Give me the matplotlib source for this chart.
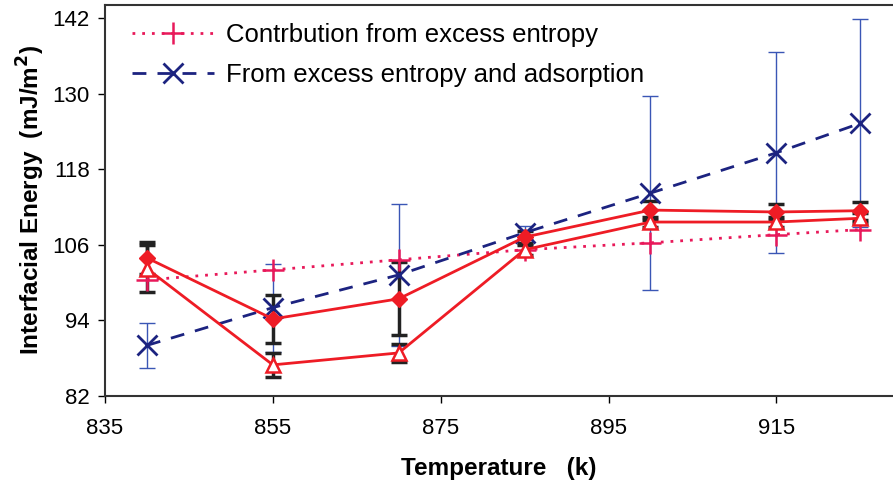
import matplotlib
matplotlib.use("Agg")
import matplotlib.pyplot as plt

temps = [840, 855, 870, 885, 900, 915, 925]
excess_entropy = [100.4, 102.0, 103.6, 105.2, 106.3, 107.6, 108.4]
entropy_adsorption = [90.0, 96.0, 101.2, 107.9, 114.2, 120.6, 125.3]
entropy_adsorption_err = [3.6, 7.0, 11.3, 1.0, 15.4, 16.0, 16.5]
measured_a = [103.9, 94.2, 97.4, 107.2, 111.5, 111.2, 111.4]
measured_a_err = [2.5, 3.8, 5.8, 1.0, 1.5, 1.3, 1.4]
measured_b = [102.2, 86.9, 88.8, 105.2, 109.6, 109.6, 110.2]
measured_b_err = [3.7, 1.9, 1.4, 0.8, 0.8, 0.8, 0.8]
xticks = [835, 855, 875, 895, 915]
yticks = [82, 94, 106, 118, 130, 142]

plt.rcParams['font.family'] = ['Liberation Sans', 'DejaVu Sans']

fig = plt.figure(figsize=(8.93, 4.86), dpi=100)
ax = fig.add_axes([0.1176, 0.1858, 0.8824, 0.804])

red = '#ee1c25'
pink = '#e8195a'
navy = '#1c2380'
ebblue = '#3a56b5'

# blue error bars (thin)
ax.errorbar(temps, entropy_adsorption, yerr=entropy_adsorption_err, fmt='none',
            ecolor=ebblue, elinewidth=1.0, capsize=5.5, capthick=1.0, zorder=2)
# black error bars for measured series
ax.errorbar(temps, measured_a, yerr=measured_a_err, fmt='none',
            ecolor='#222222', elinewidth=2.5, capsize=6, capthick=2.5, zorder=3)
ax.errorbar(temps, measured_b, yerr=measured_b_err, fmt='none',
            ecolor='#222222', elinewidth=2.5, capsize=6, capthick=2.5, zorder=3)

ax.plot(temps, measured_a, color=red, lw=2, marker='D', ms=8.5,
        mfc=red, mec=red, zorder=5)
ax.plot(temps, measured_b, color=red, lw=2, marker='^', ms=9.5,
        mfc='white', mec=red, mew=1.8, zorder=5)

ax.plot(temps, excess_entropy, color=pink, lw=2, ls=(0, (1, 2.5)), marker='+',
        ms=16, mew=1.8, label='Contrbution from excess entropy', zorder=4)
ax.plot(temps, entropy_adsorption, color=navy, lw=2, ls=(0, (5, 4)), marker='x',
        ms=15, mew=2, label='From excess entropy and adsorption', zorder=4)

ax.set_xlim(835, 928.9)
ax.set_ylim(82, 144.1)
ax.set_xticks(xticks)
ax.set_yticks(yticks)
ax.tick_params(direction='out', length=5, width=1, labelsize=16, pad=6)
ax.tick_params(axis='x', pad=11)
for s in ['left', 'bottom', 'top']:
    ax.spines[s].set_linewidth(1.5)
    ax.spines[s].set_color('#333333')
ax.spines['right'].set_visible(False)

ax.set_xlabel('Temperature   (k)', fontsize=17.5, fontweight='bold', labelpad=13)
ax.set_ylabel('Interfacial Energy  (mJ/m$^\\mathbf{2}$)', fontsize=17.5,
              fontweight='bold', labelpad=4)

leg = ax.legend(loc='upper left', frameon=False, fontsize=18.5,
                handlelength=3.2, handletextpad=0.45, labelspacing=0.6,
                bbox_to_anchor=(0.005, 1.012))

fig.savefig('out.png', dpi=100)
